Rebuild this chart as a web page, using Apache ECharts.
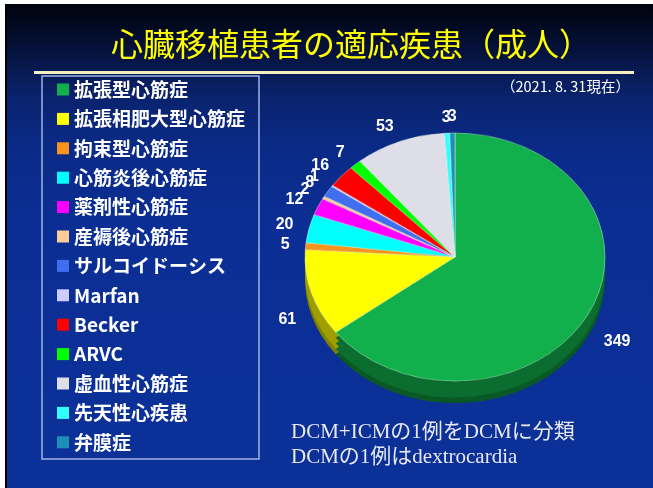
<!DOCTYPE html>
<html>
<head>
<meta charset="utf-8">
<script src="https://cdn.jsdelivr.net/npm/echarts@6/dist/echarts.min.js"></script>
<style>
  html, body { margin: 0; padding: 0; background: #fff; }
  #main, #pie { position: absolute; left: 0; top: 0; width: 653px; height: 488px; }
  /* the pie lives in its own layer, squashed to look tilted */
  #pie { transform-origin: 0 257px; transform: scaleY(0.827); }
</style>
</head>
<body>
<div id="main"></div>
<div id="pie"></div>
<script>
  var names = ['拡張型心筋症', '拡張相肥大型心筋症', '拘束型心筋症', '心筋炎後心筋症', '薬剤性心筋症',
    '産褥後心筋症', 'サルコイドーシス', 'Marfan', 'Becker', 'ARVC', '虚血性心筋症', '先天性心疾患', '弁膜症'];
  var values = [349, 61, 5, 20, 12, 2, 8, 1, 16, 7, 53, 3, 3];
  var colors = ['#12b04c', '#ffff00', '#f7941d', '#00ffff', '#ff00ff', '#ffcc99', '#3f6ff0',
    '#ccccff', '#ff0000', '#00ff00', '#dedee8', '#33ffff', '#1e90b8'];

  var CX = 455, CY = 257, R = 150, K = 0.827, DEPTH = 22;

  function darken(hex, f) {
    var n = parseInt(hex.slice(1), 16);
    var r = Math.round(((n >> 16) & 255) * f), g = Math.round(((n >> 8) & 255) * f), b = Math.round((n & 255) * f);
    return 'rgb(' + r + ',' + g + ',' + b + ')';
  }

  var total = values.reduce(function (a, b) { return a + b; }, 0);
  var midAngle = [];
  var acc = 0;
  values.forEach(function (v) {
    midAngle.push((acc + v / 2) / total * 2 * Math.PI);
    acc += v;
  });

  // ---- pie layer ----
  var pieChart = echarts.init(document.getElementById('pie'));
  var pieSeries = [];
  var steps = [1, 0.75, 0.5, 0.25];
  steps.forEach(function (s) {
    pieSeries.push({
      type: 'pie',
      silent: true,
      z: 1,
      center: [CX, CY + DEPTH / K * s],
      radius: R,
      label: { show: false },
      labelLine: { show: false },
      itemStyle: { borderWidth: 0 },
      data: values.map(function (v, j) {
        return { name: names[j], value: v, itemStyle: { color: darken(colors[j], s === 1 ? 0.5 : 0.62) } };
      })
    });
  });
  pieSeries.push({
    type: 'pie',
    silent: true,
    z: 2,
    center: [CX, CY],
    radius: R,
    label: { show: false },
    labelLine: { show: false },
    itemStyle: { borderColor: 'rgba(235,255,240,0.6)', borderWidth: 0.7 },
    data: values.map(function (v, j) {
      return { name: names[j], value: v, itemStyle: { color: colors[j] } };
    })
  });
  pieChart.setOption({ animation: false, series: pieSeries });

  // ---- background, legend, texts, labels ----
  var myChart = echarts.init(document.getElementById('main'));
  var option = {
    animation: false,
    backgroundColor: new echarts.graphic.LinearGradient(0, 0, 0, 1, [
      { offset: 0, color: '#00030c' },
      { offset: 0.06, color: '#020a24' },
      { offset: 0.13, color: '#07174a' },
      { offset: 0.2, color: '#0a236e' },
      { offset: 0.3, color: '#0a2a86' },
      { offset: 0.45, color: '#0b2e94' },
      { offset: 1, color: '#0b3199' }
    ]),
    legend: {
      orient: 'vertical',
      left: 57,
      top: 80,
      padding: 0,
      itemWidth: 12,
      itemHeight: 12,
      itemGap: 10.4,
      icon: 'rect',
      selectedMode: false,
      textStyle: {
        color: '#fff',
        fontSize: 19,
        lineHeight: 19,
        fontWeight: 'bold',
        fontFamily: 'Noto Sans CJK JP'
      },
      data: names.map(function (n, i) {
        return { name: n, itemStyle: { color: colors[i], borderWidth: 0 } };
      })
    },
    graphic: [
      { type: 'rect', shape: { x: 0, y: 0, width: 653, height: 4 }, style: { fill: '#fff' } },
      { type: 'rect', shape: { x: 0, y: 0, width: 5, height: 488 }, style: { fill: '#fff' } },
      { type: 'rect', shape: { x: 5, y: 4, width: 2, height: 484 }, style: { fill: '#000' } },
      { type: 'rect', shape: { x: 34, y: 71, width: 600, height: 3 }, style: { fill: '#f3efc2' } },
      { type: 'rect', shape: { x: 42, y: 76, width: 217, height: 383 },
        style: { fill: 'none', stroke: '#9fb2e6', lineWidth: 1.5 } },
      { type: 'text', x: 111, y: 44,
        style: { text: '心臓移植患者の適応疾患（成人）', fill: '#ffff00', fontSize: 32,
          fontFamily: 'Noto Sans CJK JP', verticalAlign: 'middle' } },
      { type: 'text', x: 501, y: 86,
        style: { text: '（2021. 8. 31現在）', fill: '#fff', fontSize: 14.5,
          fontFamily: 'Noto Sans CJK JP', verticalAlign: 'middle' } },
      { type: 'text', x: 291, y: 432,
        style: { text: 'DCM+ICMの1例をDCMに分類', fill: '#e8e8f0', fontSize: 21,
          fontFamily: "'Liberation Serif', 'Noto Sans CJK JP'", verticalAlign: 'middle' } },
      { type: 'text', x: 291, y: 457,
        style: { text: 'DCMの1例はdextrocardia', fill: '#e8e8f0', fontSize: 21,
          fontFamily: "'Liberation Serif', 'Noto Sans CJK JP'", verticalAlign: 'middle' } }
    ],
    series: [
      {
        type: 'pie',
        center: [CX, CY],
        radius: R,
        avoidLabelOverlap: false,
        silent: true,
        itemStyle: { color: 'rgba(0,0,0,0)', borderWidth: 0 },
        label: {
          show: true,
          position: 'outside',
          formatter: '{c}',
          color: '#fff',
          fontSize: 16,
          fontWeight: 'bold',
          fontFamily: 'Liberation Sans'
        },
        labelLine: { show: false, length: 6, length2: 0 },
        // put labels round the tilted (elliptical) rim
        labelLayout: function (p) {
          var a = midAngle[p.dataIndex];
          var s = Math.sin(a), c = Math.cos(a);
          var L = 16;
          var x = CX + (R + L) * s;
          var y = CY - (R * K + L) * c;
          if (c < 0) y += DEPTH;
          var align = Math.abs(s) < 0.2 ? 'center' : (s < 0 ? 'right' : 'left');
          return { x: x, y: y, align: align, verticalAlign: 'middle' };
        },
        data: values.map(function (v, i) {
          return { name: names[i], value: v };
        })
      }
    ]
  };
  option && myChart.setOption(option);
</script>
</body>
</html>
